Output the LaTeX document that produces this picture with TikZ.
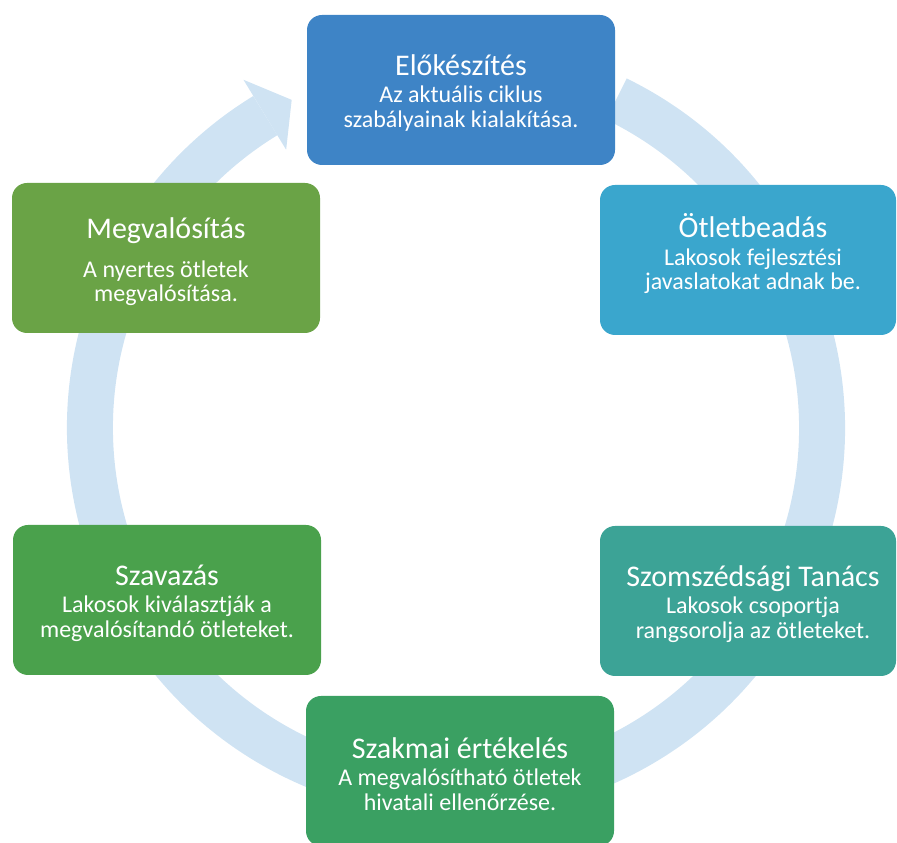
\documentclass[tikz,border=0pt]{standalone}
\usepackage{fontspec}
\setmainfont{Carlito}
\usetikzlibrary{calc}
\definecolor{cA}{RGB}{62,132,198}
\definecolor{cB}{RGB}{58,166,205}
\definecolor{cC}{RGB}{60,163,150}
\definecolor{cD}{RGB}{58,160,98}
\definecolor{cE}{RGB}{74,161,76}
\definecolor{cF}{RGB}{106,163,70}
\definecolor{ringc}{RGB}{207,227,243}
\newcommand{\ttlf}{\fontsize{30}{30}\selectfont}
\begin{document}
\begin{tikzpicture}[x=1pt,y=1pt,
  stagebox/.style={rounded corners=15pt, minimum width=308pt, minimum height=150pt},
  stagetext/.style={text=white, align=center, inner sep=0pt, font=\fontsize{24}{24.5}\selectfont},
  ring/.style={ringc, line width=46pt}]
\useasboundingbox (0,0) rectangle (897,843);
\clip (0,0) rectangle (897,843);
\coordinate (O) at (456,415);
% ring
\draw[ring] ($(O)+(64:366)$) coordinate (rs) arc[start angle=64, end angle=-238.6, radius=366] coordinate (re);
\fill[ringc] ($(O)+(121.4:326)$) coordinate (h1) -- ($(O)+(116.6:367)$) coordinate (ht) -- ($(O)+(121.4:408)$) coordinate (h2) -- cycle;
% boxes
\node[stagebox, fill=cA] (b1) at (461,753) {};
\node[stagebox, fill=cB, minimum width=296pt] (b2) at (748,583) {};
\node[stagebox, fill=cC, minimum width=296pt] (b3) at (748,242) {};
\node[stagebox, fill=cD] (b4) at (460,72) {};
\node[stagebox, fill=cE] (b5) at (167,243) {};
\node[stagebox, fill=cF] (b6) at (166,585) {};
% texts
\node[stagetext] (t1) at (461,750) {{\ttlf Előkészítés}\\[3pt]Az aktuális ciklus\\szabályainak kialakítása.};
\node[stagetext] (t2) at (753,589) {{\ttlf Ötletbeadás}\\[3pt]Lakosok fejlesztési\\javaslatokat adnak be.};
\node[stagetext] (t3) at (753,239) {{\ttlf Szomszédsági Tanács}\\[3pt]Lakosok csoportja\\rangsorolja az ötleteket.};
\node[stagetext] (t4) at (460,69) {{\ttlf Szakmai értékelés}\\[3pt]A megvalósítható ötletek\\hivatali ellenőrzése.};
\node[stagetext] (t5) at (167,240) {{\ttlf Szavazás}\\[3pt]Lakosok kiválasztják a\\megvalósítandó ötleteket.};
\node[stagetext] (t6) at (166,581) {{\ttlf Megvalósítás}\\[14pt]A nyertes ötletek\\megvalósítása.};
\end{tikzpicture}
\end{document}
